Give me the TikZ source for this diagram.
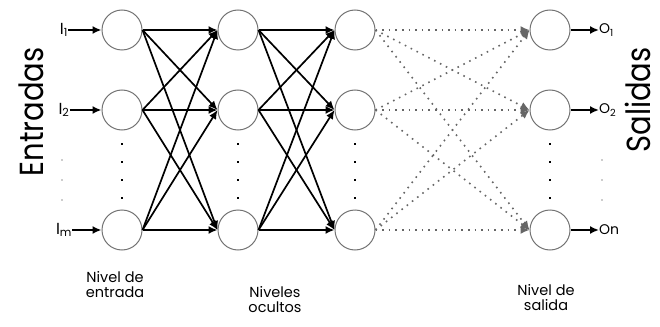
\documentclass[tikz,border=0pt]{standalone}
\usepackage{fontspec}
\setmainfont{Poppins}
\usetikzlibrary{arrows.meta}
\begin{document}
\begin{tikzpicture}[x=1pt,y=-1pt,
  neuron/.style={circle,draw=black!55,line width=1pt,minimum size=40pt,inner sep=0pt},
  conn/.style={line width=1.7pt,-{Latex[length=9pt,width=8pt]}},
  dconn/.style={line width=1.6pt,black!60,dash pattern=on 1.6pt off 5pt,-{Latex[length=9pt,width=8pt]}},
  io/.style={line width=1.7pt,-{Latex[length=9pt,width=8pt]}},
  lbl/.style={font=\fontsize{14.5}{15}\selectfont,align=center,inner sep=0pt},
  big/.style={font=\fontsize{29}{29}\selectfont,inner sep=0pt,rotate=90,anchor=base},
  inl/.style={font=\fontsize{16}{16}\selectfont,inner sep=0pt},
  outl/.style={font=\fontsize{14}{14}\selectfont,inner sep=0pt,anchor=west},
  dot/.style={rectangle,fill=black,inner sep=0pt,minimum size=2.8pt},
  fdot/.style={circle,fill=black!40,inner sep=0pt,minimum size=1.8pt}]
\useasboundingbox (0,0) rectangle (660,326);
% neurons
\foreach \c/\x in {a/122,b/238,c/355,d/550}{
  \node[neuron] (\c1) at (\x,30) {};
  \node[neuron] (\c2) at (\x,110) {};
  \node[neuron] (\c3) at (\x,230) {};
  \foreach \y [count=\k] in {144,162,180,198}{
    \node[dot] (\c d\k) at (\x,\y) {};
  }
}
% full connections
\foreach \i in {1,2,3}{
  \foreach \j in {1,2,3}{
    \draw[conn] (a\i.east) -- (b\j.west);
    \draw[conn] (b\i.east) -- (c\j.west);
    \draw[dconn] (c\i.east) -- (d\j.west);
  }
}
% inputs
\node[inl] (i1) at (64,30) {I\textsubscript{1}};
\node[inl] (i2) at (64,110) {I\textsubscript{2}};
\node[inl] (i3) at (64,230) {I\textsubscript{m}};
\foreach \k in {1,2,3}{\draw[io] (i\k.east) -- (a\k.west);}
% outputs
\node[outl] (o1) at (599,30) {O\textsubscript{1}};
\node[outl] (o2) at (599,110) {O\textsubscript{2}};
\node[outl] (o3) at (599,230) {On};
\foreach \k in {1,2,3}{\draw[io] (d\k.east) -- (o\k.west);}
% faint dots
\foreach \y [count=\k] in {160,180,200}{
  \node[fdot] (l\k) at (62,\y) {};
  \node[fdot] (r\k) at (602,\y) {};
}
% side labels
\node[big] (ent) at (43,112) {\scalebox{1}[1.15]{Entradas}};
\node[big] (sal) at (650,100) {\scalebox{1}[1.15]{Salidas}};
% bottom labels
\node[lbl] (n1) at (115,285) {Nivel de\\entrada};
\node[lbl] (n2) at (275,300) {Niveles\\ocultos};
\node[lbl] (n3) at (546,298) {Nivel de\\salida};
\end{tikzpicture}
\end{document}
